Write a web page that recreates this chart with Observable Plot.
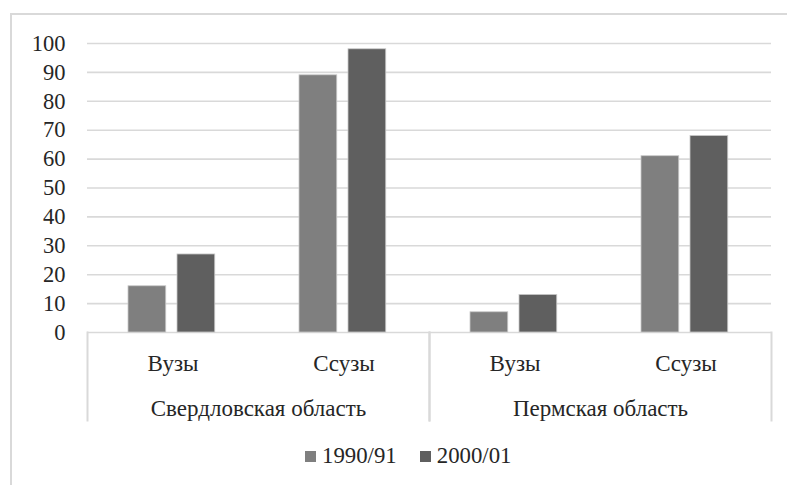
<!DOCTYPE html>
<html>
<head>
<meta charset="utf-8">
<script src="https://cdn.jsdelivr.net/npm/d3@7"></script>
<script src="https://cdn.jsdelivr.net/npm/@observablehq/plot@0.6"></script>
<style>
  html, body { margin: 0; padding: 0; background: #fff; }
  #wrap { position: relative; width: 787px; height: 485px; overflow: hidden; font-family: 'Liberation Serif', 'Times New Roman', serif; color: #262626; }
  #frame { position: absolute; left: 10px; top: 13px; width: 800px; height: 500px; border-left: 2px solid #d9d9d9; border-top: 2px solid #d9d9d9; box-sizing: border-box; }
  #chart { position: absolute; left: 0; top: 0; }
  #chart svg text { font-family: 'Liberation Serif', 'Times New Roman', serif; }
  #legend { position: absolute; left: 305px; top: 441px; display: flex; align-items: center; font-size: 22.8px; line-height: 30px; }
  #legend .item { display: flex; align-items: center; }
  #legend .sw { width: 11px; height: 11px; margin-right: 6px; }
</style>
</head>
<body>
<div id="wrap">
  <div id="frame"></div>
  <div id="chart"></div>
  <div id="legend"></div>
</div>
<script>
const regions = ["Свердловская область", "Пермская область"];
const categories = ["Вузы", "Ссузы"];
const seriesNames = ["1990/91", "2000/01"];
const seriesColors = ["#7f7f7f", "#5f5f5f"];
const yTicks = [0, 10, 20, 30, 40, 50, 60, 70, 80, 90, 100];
// values per region: [Вузы, Ссузы]
const values1990 = { "Свердловская область": [16, 89], "Пермская область": [7, 61] };
const values2000 = { "Свердловская область": [27, 98], "Пермская область": [13, 68] };

const data = [];
for (const r of regions) {
  categories.forEach((c, i) => {
    data.push({region: r, category: c, series: seriesNames[0], value: values1990[r][i]});
    data.push({region: r, category: c, series: seriesNames[1], value: values2000[r][i]});
  });
}

const font = "'Liberation Serif', 'Times New Roman', serif";
const chart = Plot.plot({
  width: 787,
  height: 440,
  marginLeft: 86,
  marginRight: 16,
  marginTop: 43,
  marginBottom: 20,
  style: {fontFamily: font, fontSize: "22px", color: "#262626", background: "transparent"},
  fx: {domain: regions, padding: 0, label: null},
  x: {domain: categories, padding: 0, label: null},
  y: {domain: [0, 100], range: [332, 43], label: null},
  color: {domain: seriesNames, range: seriesColors},
  marks: [
    Plot.gridY(yTicks, {stroke: "#d9d9d9", strokeOpacity: 1, strokeWidth: 1.6}),
    Plot.frame({anchor: "left", stroke: "#d9d9d9", strokeWidth: 2, insetTop: 289}),
    Plot.frame({anchor: "right", stroke: "#d9d9d9", strokeWidth: 2, insetTop: 289}),
    Plot.barY(data.filter(d => d.series === seriesNames[0]), {
      fx: "region", x: "category", y: "value", fill: "series",
      insetLeft: 41, insetRight: 92.25, stroke: "#c9c9c9", strokeWidth: 0.8
    }),
    Plot.barY(data.filter(d => d.series === seriesNames[1]), {
      fx: "region", x: "category", y: "value", fill: "series",
      insetLeft: 90, insetRight: 43.25, stroke: "#c9c9c9", strokeWidth: 0.8
    }),
    Plot.axisY(yTicks, {tickSize: 0, tickPadding: 22, fontSize: 22.5, fontFamily: font, label: null, fill: "#262626"}),
    Plot.axisX({anchor: "bottom", tickSize: 0, tickPadding: 0, dy: -66, fontSize: 23, fontFamily: font, label: null, fill: "#262626"}),
    Plot.axisFx({anchor: "bottom", tickSize: 0, tickPadding: 0, dy: -21, fontSize: 23, fontFamily: font, label: null, fill: "#262626"})
  ]
});
document.getElementById("chart").appendChild(chart);

const legend = document.getElementById("legend");
seriesNames.forEach((s, i) => {
  const item = document.createElement("div");
  item.className = "item";
  if (i > 0) item.style.marginLeft = "23px";
  const sw = document.createElement("div");
  sw.className = "sw";
  sw.style.background = seriesColors[i];
  const t = document.createElement("span");
  t.textContent = s;
  item.appendChild(sw);
  item.appendChild(t);
  legend.appendChild(item);
});
</script>
</body>
</html>
